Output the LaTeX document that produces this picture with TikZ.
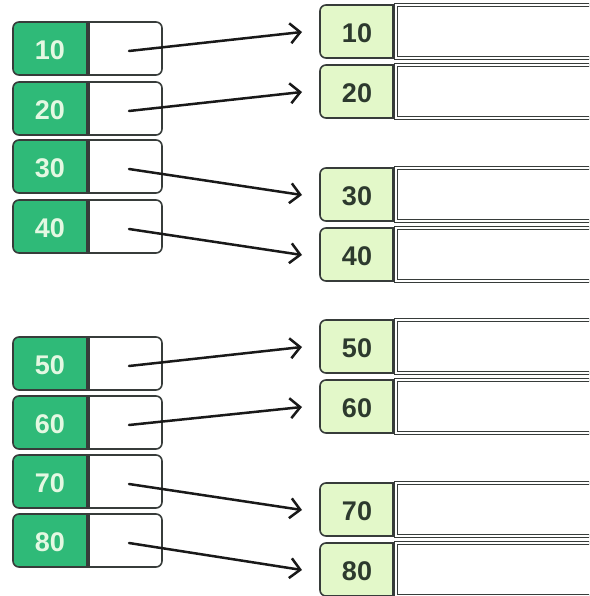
\documentclass[tikz,border=0pt]{standalone}
\usepackage{fontspec}
\newfontfamily\labfont{Liberation Sans}
\usetikzlibrary{arrows.meta}
\definecolor{keygreen}{RGB}{47,186,120}
\definecolor{keytext}{RGB}{228,248,226}
\definecolor{lightkey}{RGB}{227,248,201}
\definecolor{darktext}{RGB}{45,58,46}
\definecolor{edge}{RGB}{55,60,58}
\tikzset{
  boxline/.style={draw=edge, line width=1.6pt},
  lefttext/.style={font=\labfont\bfseries\fontsize{27}{27}\selectfont, text=keytext, inner sep=0pt},
  righttext/.style={font=\labfont\bfseries\fontsize{27}{27}\selectfont, text=darktext, inner sep=0pt},
  ptr/.style={line width=2.5pt, black!90, -{Straight Barb[length=10pt,width=20pt,line width=2.5pt]}, line cap=round}
}
\begin{document}
\begin{tikzpicture}[x=1pt,y=-1pt]
\useasboundingbox (0,0) rectangle (589,596);
\clip (0,0) rectangle (589,596);
\fill[white] (0,0) rectangle (589,596);
\foreach \lab/\ly/\ry in {10/22/5, 20/82/65, 30/140/168, 40/200/228, 50/337/320, 60/396/380, 70/455/483, 80/514/543}{
  % left record
  \draw[boxline, fill=keygreen] (87,\ly) [rounded corners=6pt] -- (13,\ly) -- (13,\ly+53) [sharp corners] -- (87,\ly+53) -- cycle;
  \draw[boxline, fill=white] (89,\ly) [rounded corners=6pt] -- (162,\ly) -- (162,\ly+53) [sharp corners] -- (89,\ly+53) -- cycle;
  \node[lefttext] (lk\lab) at (50,\ly+28) {\lab};
  \coordinate (lp\lab) at (129,\ly+29);
  % right record
  \draw[boxline, fill=lightkey] (393,\ry) [rounded corners=6pt] -- (320,\ry) -- (320,\ry+53) [sharp corners] -- (393,\ry+53) -- cycle;
  \draw[draw=edge, line width=1pt, double=white, double distance=1.2pt, fill=white] (396,\ry) rectangle (620,\ry+53);
  \node[righttext] (rk\lab) at (357,\ry+28) {\lab};
  \coordinate (rt\lab) at (302,\ry+27);
  \draw[ptr] (lp\lab) -- (rt\lab);
}
\end{tikzpicture}
\end{document}
